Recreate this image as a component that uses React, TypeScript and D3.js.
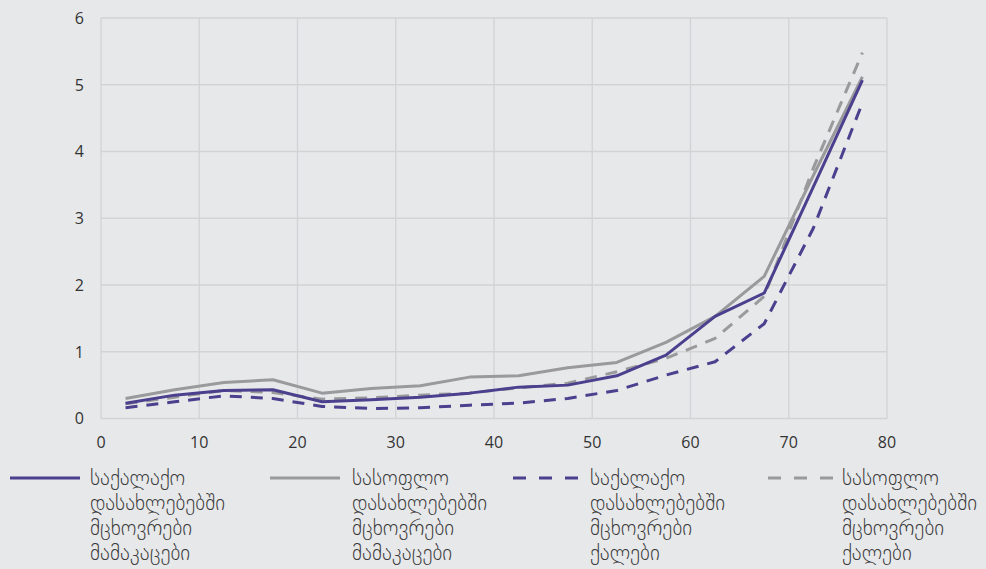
import React from "react";
import * as d3 from "d3";

const ages = [2.5, 7.5, 12.5, 17.5, 22.5, 27.5, 32.5, 37.5, 42.5, 47.5, 52.5, 57.5, 62.5, 67.5, 72.5, 77.5];
const urbanMen = [0.23, 0.35, 0.42, 0.43, 0.25, 0.28, 0.32, 0.38, 0.47, 0.5, 0.64, 0.95, 1.53, 1.88, 3.47, 5.07];
const ruralMen = [0.3, 0.43, 0.54, 0.58, 0.38, 0.45, 0.49, 0.62, 0.64, 0.76, 0.84, 1.14, 1.53, 2.13, 3.64, 5.12];
const urbanWomen = [0.16, 0.25, 0.34, 0.3, 0.18, 0.15, 0.16, 0.2, 0.23, 0.3, 0.42, 0.65, 0.85, 1.42, 2.85, 4.73];
const ruralWomen = [0.22, 0.32, 0.42, 0.39, 0.29, 0.31, 0.35, 0.38, 0.46, 0.53, 0.7, 0.9, 1.2, 1.83, 3.75, 5.48];
const xTicks = [0, 10, 20, 30, 40, 50, 60, 70, 80];
const yTicks = [0, 1, 2, 3, 4, 5, 6];

const seriesNames = [
  ["საქალაქო", "დასახლებებში", "მცხოვრები", "მამაკაცები"],
  ["სასოფლო", "დასახლებებში", "მცხოვრები", "მამაკაცები"],
  ["საქალაქო", "დასახლებებში", "მცხოვრები", "ქალები"],
  ["სასოფლო", "დასახლებებში", "მცხოვრები", "ქალები"],
];

const PURPLE = "#4b3f8e";
const GRAY = "#9a9a9c";

export default function App() {
  const W = 986, H = 569;
  const left = 101, right = 887, top = 18, bottom = 418.5;
  const x = d3.scaleLinear().domain([0, 80]).range([left, right]);
  const y = d3.scaleLinear().domain([0, 6]).range([bottom, top]);
  const line = d3.line<number>().x((_, i) => x(ages[i])).y((d) => y(d));

  const series = [
    { data: urbanMen, color: PURPLE, dash: "" },
    { data: ruralMen, color: GRAY, dash: "" },
    { data: urbanWomen, color: PURPLE, dash: "12 9" },
    { data: ruralWomen, color: GRAY, dash: "12 9" },
  ];
  const drawOrder = [1, 3, 0, 2];
  const legendX = [10, 270, 508, 763];
  const textX = [90, 352, 590, 842];
  const gridColor = "#d3d3d5";
  const tickFont = "'Open Sans', 'DejaVu Sans', sans-serif";
  const legendFont = "'DejaVu Sans', sans-serif";

  return (
    <svg width={W} height={H} style={{ position: "absolute", left: 0, top: 0, background: "#e7e8ea" }}>
      <rect x={0} y={0} width={W} height={H} fill="#e7e8ea" />
      {xTicks.map((t) => (
        <line key={"gx" + t} x1={x(t)} x2={x(t)} y1={top} y2={bottom} stroke={gridColor} strokeWidth={1.3} />
      ))}
      {yTicks.map((t) => (
        <line key={"gy" + t} x1={left} x2={right} y1={y(t)} y2={y(t)} stroke={gridColor} strokeWidth={1.3} />
      ))}
      {yTicks.map((t) => (
        <text key={"ty" + t} x={84} y={y(t)} dy="0.36em" textAnchor="end" fontFamily={tickFont} fontSize={16} fill="#333">
          {t}
        </text>
      ))}
      {xTicks.map((t) => (
        <text key={"tx" + t} x={x(t)} y={442.5} dy="0.36em" textAnchor="middle" fontFamily={tickFont} fontSize={16} fill="#333">
          {t}
        </text>
      ))}
      {drawOrder.map((i) => {
        const s = series[i];
        return (
          <path
            key={"s" + i}
            d={line(s.data) || ""}
            fill="none"
            stroke={s.color}
            strokeWidth={3}
            strokeDasharray={s.dash || undefined}
            strokeLinejoin="round"
          />
        );
      })}
      {series.map((s, i) => (
        <g key={"lg" + i}>
          <line
            x1={legendX[i]}
            x2={legendX[i] + 70}
            y1={478}
            y2={478}
            stroke={s.color}
            strokeWidth={3}
            strokeDasharray={s.dash ? "13 13" : undefined}
            strokeDashoffset={s.dash ? -5 : undefined}
          />
          {seriesNames[i].map((txt, j) => (
            <text key={j} x={textX[i]} y={485 + j * 25} fontFamily={legendFont} fontWeight={200} fontSize={21} fill="#3a3a3a">
              {txt}
            </text>
          ))}
        </g>
      ))}
    </svg>
  );
}
